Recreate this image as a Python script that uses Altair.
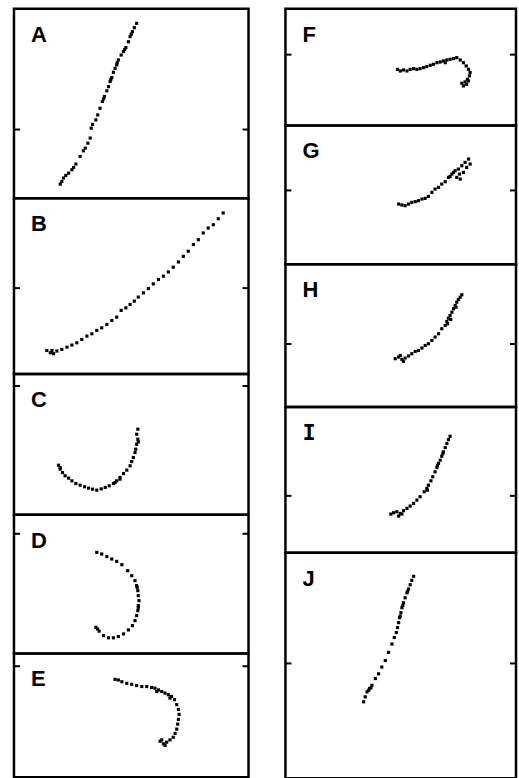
import altair as alt
import pandas as pd

# Trajectory samples for each panel (x and y in percent of the panel's range)
A_x = [19.7, 20.4, 21.1, 22.1, 23.3, 24.7, 25.4, 26.4, 28.2, 29.6, 30.4, 31.5, 32.5, 32.9, 34.9, 35.7,
       36.7, 37.7, 38.6, 39.6, 40.3, 41.0, 41.7, 42.4, 43.1, 43.8, 44.5, 45.7, 46.7, 47.7, 48.8, 49.5,
       50.5, 51.3, 52.3, 33.5, 38.2, 41.3, 44.0, 47.2, 50.0]
A_y = [7.5, 8.9, 10.7, 12.1, 13.3, 15.1, 16.3, 18.1, 22.1, 25.1, 26.5, 29.1, 31.8, 37.0, 41.4, 44.0,
       47.5, 51.1, 53.7, 56.7, 58.9, 61.6, 63.7, 66.5, 68.6, 70.4, 73.0, 75.6, 77.4, 79.5, 82.6, 85.3,
       87.9, 90.0, 92.3, 39.0, 52.5, 62.8, 71.5, 78.5, 86.6]

B_x = [14.0, 15.5, 16.9, 16.2, 18.3, 20.4, 22.6, 24.7, 26.8, 28.9, 31.1, 33.2, 35.3, 37.4, 39.6, 41.7,
       43.8, 45.7, 47.7, 49.5, 51.3, 53.0, 55.2, 57.3, 59.4, 61.6, 63.7, 65.8, 67.9, 70.1, 72.2, 74.3,
       76.5, 78.6, 80.7, 82.8, 85.0, 87.1, 89.2]
B_y = [13.4, 12.1, 11.6, 13.4, 13.1, 14.0, 15.3, 16.5, 17.8, 19.7, 21.6, 22.9, 24.8, 26.3, 28.2, 30.5,
       32.4, 36.2, 37.7, 39.6, 41.5, 43.8, 46.2, 48.7, 51.3, 53.8, 55.7, 58.1, 60.8, 63.8, 67.0, 69.9,
       73.7, 76.5, 80.3, 83.1, 85.0, 88.4, 91.7]

C_x = [19.0, 19.7, 20.7, 21.8, 23.3, 24.7, 26.4, 28.2, 30.1, 31.8, 33.5, 35.3, 37.2, 38.9, 40.6, 42.4,
       43.8, 45.2, 46.7, 48.1, 49.5, 50.2, 50.9, 51.6, 51.9, 52.3, 52.8, 52.3, 52.8, 45.2, 43.1, 19.7,
       53.0]
C_y = [35.2, 32.4, 30.0, 27.7, 26.0, 24.1, 22.2, 21.0, 19.9, 18.9, 18.2, 17.5, 18.4, 19.4, 20.6, 22.2,
       24.1, 26.5, 29.3, 31.7, 34.8, 37.8, 40.7, 44.2, 46.6, 50.1, 53.7, 57.2, 60.8, 25.3, 22.9, 33.6,
       51.8]

D_x = [35.3, 37.4, 39.6, 41.7, 43.8, 46.0, 48.5, 50.2, 51.6, 52.3, 52.8, 53.0, 53.3, 53.0, 52.8, 52.3,
       51.6, 50.5, 48.8, 46.7, 44.5, 42.4, 40.3, 38.2, 36.3, 34.9, 53.0, 52.5, 35.6]
D_y = [72.9, 71.7, 69.8, 68.1, 66.4, 64.0, 59.7, 56.1, 52.5, 48.9, 45.3, 41.7, 38.1, 34.5, 30.9, 27.3,
       23.7, 20.1, 17.0, 14.1, 12.2, 11.3, 11.3, 12.9, 16.1, 18.9, 32.9, 47.7, 17.7]

E_x = [43.1, 44.5, 46.0, 48.1, 50.2, 52.3, 54.5, 56.6, 58.7, 60.1, 60.9, 61.6, 63.0, 64.4, 65.8, 67.2,
       66.5, 68.4, 69.4, 70.1, 70.4, 70.1, 69.8, 69.4, 68.7, 67.9, 66.5, 65.1, 63.7, 62.3, 64.4, 63.0]
E_y = [79.1, 78.6, 77.2, 75.9, 75.1, 74.1, 73.3, 73.3, 72.5, 72.0, 69.3, 70.6, 69.3, 68.0, 66.7, 65.3,
       64.0, 62.7, 58.7, 54.8, 50.8, 46.8, 42.9, 38.9, 35.4, 32.3, 30.2, 28.3, 27.0, 29.1, 25.7, 30.2]

F_x = [48.6, 49.8, 51.2, 52.7, 54.1, 55.6, 57.0, 58.4, 59.9, 61.3, 62.8, 64.2, 65.7, 67.1, 68.5, 70.0,
       71.4, 72.9, 74.3, 75.8, 77.2, 78.4, 79.4, 80.1, 79.8, 78.9, 77.9, 76.5, 78.6, 77.2, 79.4, 69.3]
F_y = [48.1, 46.7, 47.6, 46.7, 48.1, 48.7, 48.1, 48.7, 49.6, 50.4, 51.6, 52.4, 53.8, 54.4, 55.3, 56.1,
       56.7, 57.3, 58.1, 56.1, 53.8, 51.0, 48.1, 45.3, 42.5, 39.6, 37.3, 36.2, 35.3, 33.9, 38.2, 53.8]

G_x = [49.1, 50.5, 51.9, 53.4, 54.8, 56.3, 57.7, 59.2, 60.6, 62.0, 63.5, 64.9, 66.4, 67.8, 69.3, 70.7,
       72.2, 73.6, 75.0, 76.5, 77.9, 79.4, 78.6, 77.2, 75.8, 74.3, 80.1, 75.5, 72.9, 71.4]
G_y = [43.4, 42.7, 42.2, 43.4, 44.6, 45.1, 45.8, 47.0, 47.5, 48.9, 51.8, 54.2, 55.4, 57.8, 59.5, 62.6,
       65.0, 67.4, 68.6, 71.0, 73.4, 75.8, 69.8, 66.2, 61.4, 62.6, 72.2, 65.0, 66.2, 63.3]

H_x = [47.6, 49.1, 50.5, 51.9, 53.4, 54.8, 56.3, 57.7, 59.2, 60.6, 62.0, 63.5, 64.9, 66.4, 67.8, 69.3,
       70.0, 70.7, 71.4, 72.2, 72.9, 73.6, 74.3, 75.0, 75.8, 76.5, 51.2, 49.8, 71.7, 74.0, 70.3]
H_y = [33.8, 35.0, 33.3, 34.3, 35.7, 37.3, 38.9, 39.6, 41.3, 43.1, 44.3, 46.6, 49.0, 51.3, 54.8, 57.1,
       59.9, 62.2, 64.1, 66.4, 68.8, 71.1, 73.4, 75.3, 76.9, 78.6, 31.9, 36.1, 61.3, 69.9, 58.3]

I_x = [45.7, 46.9, 48.3, 49.8, 51.2, 52.7, 54.1, 55.6, 57.0, 58.4, 60.2, 61.3, 62.0, 63.1, 63.9, 64.9,
       65.7, 66.4, 67.1, 67.8, 68.5, 69.3, 70.0, 70.7, 71.4, 49.1, 50.5, 65.9, 68.3, 61.6]
I_y = [26.5, 27.4, 28.1, 26.9, 28.8, 30.4, 32.0, 33.8, 36.1, 38.4, 41.8, 44.1, 46.3, 49.3, 52.1, 55.5,
       58.4, 61.2, 63.5, 66.2, 69.2, 72.1, 74.9, 77.6, 79.9, 25.1, 26.5, 60.0, 68.0, 42.9]

J_x = [33.9, 34.6, 35.4, 36.5, 37.5, 39.0, 40.4, 41.8, 43.3, 44.7, 46.2, 47.2, 48.1, 48.6, 49.1, 49.5,
       50.1, 50.5, 51.2, 51.9, 52.7, 53.4, 54.1, 54.8, 55.6, 36.1, 37.1, 49.8, 50.9, 53.0]
J_y = [33.9, 36.1, 38.3, 39.8, 41.2, 44.2, 46.3, 49.3, 52.2, 55.8, 59.5, 62.4, 64.6, 66.8, 69.0, 71.2,
       73.4, 75.6, 77.8, 80.0, 82.2, 83.9, 85.8, 87.7, 89.5, 39.0, 40.1, 71.9, 76.6, 82.9]

# Panel letters, heights and the single marked y value on each frame
left_letters = ["A", "B", "C", "D", "E"]
left_heights = [190, 176, 141, 139, 124]
left_ticks = [36.3, 48.9, 91.5, 86.3, 89.7]

right_letters = ["F", "G", "H", "I", "J"]
right_heights = [117, 139, 143, 146, 226]
right_ticks = [60.7, 53.2, 44.1, 39.0, 50.9]

series = {
    "A": (A_x, A_y), "B": (B_x, B_y), "C": (C_x, C_y), "D": (D_x, D_y), "E": (E_x, E_y),
    "F": (F_x, F_y), "G": (G_x, G_y), "H": (H_x, H_y), "I": (I_x, I_y), "J": (J_x, J_y),
}

LEFT_W = 235
RIGHT_W = 231
TICK_LEN = 6


def panel(letter, width, height, tick):
    xs, ys = series[letter]
    df = pd.DataFrame({"x": xs, "y": ys})
    xsc = alt.Scale(domain=[0, 100], nice=False, zero=False)
    ysc = alt.Scale(domain=[0, 100], nice=False, zero=False)

    pts = alt.Chart(df).mark_square(size=10, color="black", opacity=1).encode(
        x=alt.X("x:Q", scale=xsc, axis=None),
        y=alt.Y("y:Q", scale=ysc, axis=None),
    )

    tdf = pd.DataFrame({"t": [tick]})
    tick_left = alt.Chart(tdf).mark_rule(color="black", strokeWidth=2).encode(
        y=alt.Y("t:Q", scale=ysc, axis=None),
        x=alt.value(0),
        x2=alt.value(TICK_LEN),
    )
    tick_right = alt.Chart(tdf).mark_rule(color="black", strokeWidth=2).encode(
        y=alt.Y("t:Q", scale=ysc, axis=None),
        x=alt.value(width - TICK_LEN),
        x2=alt.value(width),
    )

    font = "DejaVu Sans Mono" if letter == "I" else "Liberation Sans"
    label = alt.Chart(pd.DataFrame({"l": [letter]})).mark_text(
        align="left", baseline="alphabetic", fontSize=22, fontWeight="bold",
        font=font, color="black",
    ).encode(text="l:N", x=alt.value(17), y=alt.value(33))

    return alt.layer(pts, tick_left, tick_right, label).properties(width=width, height=height)


left_col = alt.vconcat(
    *[panel(l, LEFT_W, h, t) for l, h, t in zip(left_letters, left_heights, left_ticks)],
    spacing=0, bounds="flush",
)
right_col = alt.vconcat(
    *[panel(l, RIGHT_W, h, t) for l, h, t in zip(right_letters, right_heights, right_ticks)],
    spacing=0, bounds="flush",
)

chart = (
    alt.hconcat(left_col, right_col, spacing=31)
    .properties(padding={"left": 11, "top": 6, "right": 0, "bottom": 0}, background="white")
    .configure_view(stroke="black", strokeWidth=2.5)
)

chart.save("out.html", embed_options={"renderer": "svg", "actions": False})
